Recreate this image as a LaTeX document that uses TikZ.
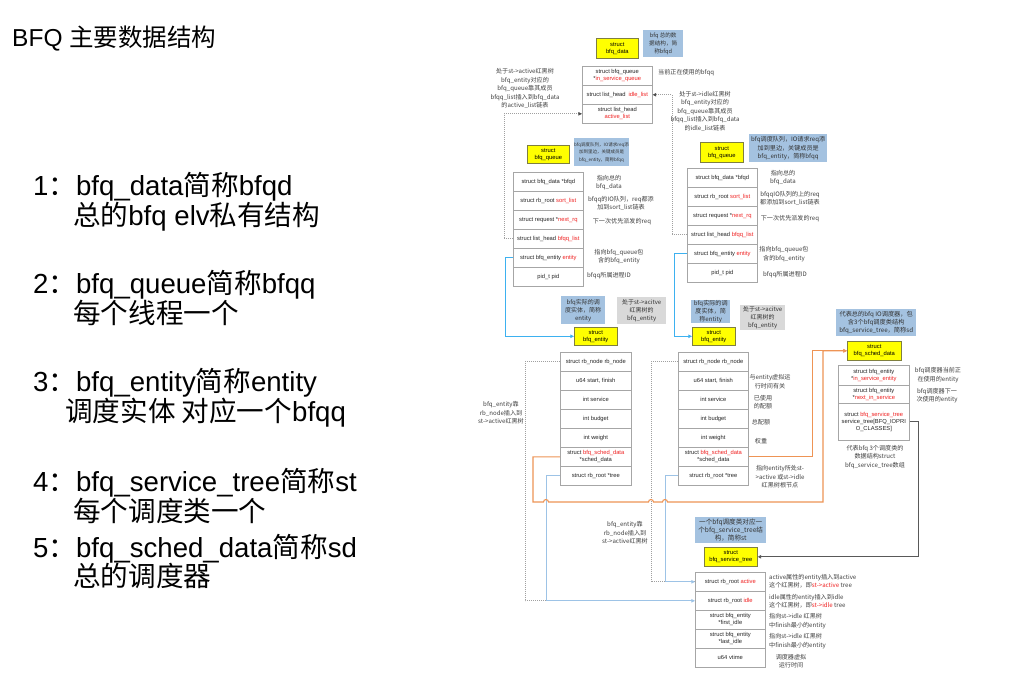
\documentclass[tikz,border=0pt]{standalone}
\usepackage{fontspec}
\setmainfont{Liberation Sans}
\newfontfamily\zhf{Noto Sans CJK SC}
\usetikzlibrary{arrows.meta}
\definecolor{rowc}{HTML}{A6A6A6}
\definecolor{yel}{HTML}{FFFF00}
\definecolor{ybord}{HTML}{7F7F40}
\definecolor{bnc}{HTML}{A4C2E0}
\definecolor{gnc}{HTML}{D9D9D9}
\definecolor{redc}{HTML}{F02020}
\definecolor{dotgray}{HTML}{A0A0A0}
\definecolor{bbr}{HTML}{3DB1F0}
\definecolor{bpl}{HTML}{9DC3E6}
\definecolor{orc}{HTML}{EE9455}
\definecolor{dgc}{HTML}{595959}
\newcommand\zh[1]{{\zhf #1}}
\newcommand\rd[1]{\textcolor{redc}{#1}}
\newcommand\rowf{\fontsize{5.8}{7}\selectfont}
\newcommand\annf{\zhf\fontsize{6.1}{8.5}\selectfont}
\newcommand\notef[1]{\zhf\fontsize{#1}{8}\selectfont}
\newcommand\mkrow[6]{\node[row, minimum width=#4pt, minimum height=#5pt] (#1) at (#2,#3) {#6};}
\begin{document}
\begin{tikzpicture}[x=1pt,y=-1pt,
 row/.style={draw=rowc, line width=0.6pt, fill=white, anchor=north west, inner sep=0pt, align=center, font=\rowf, text=black!85},
 ybox/.style={draw=ybord, line width=0.6pt, fill=yel, anchor=north west, inner sep=0pt, align=center, font=\rowf},
 bnote/.style={fill=bnc, anchor=north west, inner sep=0pt, align=center, text=black!80},
 gnote/.style={fill=gnc, anchor=north west, inner sep=0pt, align=center, text=black!80},
 ann/.style={align=center, font=\annf, text=black!75, inner sep=0pt},
 lst/.style={anchor=base west, inner sep=0pt, font=\fontsize{27.6}{30}\selectfont, text=black},
 tip/.style={-{Triangle[length=3.6pt,width=3.4pt]}},
 dotc/.style={draw=dotgray, line width=0.7pt, dash pattern=on 0.8pt off 1.2pt},
 dtip/.style={-{Triangle[length=3.6pt,width=3.4pt,color=black!70]}},
 bbright/.style={draw=bbr, line width=0.9pt, tip},
 bpale/.style={draw=bpl, line width=0.9pt, tip},
 orl/.style={draw=orc, line width=1.1pt},
 dgl/.style={draw=dgc, line width=0.9pt, tip}]
\useasboundingbox (0,0) rectangle (1011,675);
\fill[white] (0,0) rectangle (1011,675);

% ---------- left text ----------
\node[anchor=base west, inner sep=0pt, font=\fontsize{24.5}{28}\selectfont] (title) at (12,46) {BFQ \zh{主要数据结构}};
\node[lst] (l1a) at (33,195) {1\zh{：}bfq\_data\zh{简称}bfqd};
\node[lst] (l1b) at (73,225) {\zh{总的}bfq elv\zh{私有结构}};
\node[lst] (l2a) at (33,293) {2\zh{：}bfq\_queue\zh{简称}bfqq};
\node[lst] (l2b) at (73,323) {\zh{每个线程一个}};
\node[lst] (l3a) at (33,391) {3\zh{：}bfq\_entity\zh{简称}entity};
\node[lst] (l3b) at (65,421) {\zh{调度实体 对应一个}bfqq};
\node[lst] (l4a) at (33,491) {4\zh{：}bfq\_service\_tree\zh{简称}st};
\node[lst] (l4b) at (73,521) {\zh{每个调度类一个}};
\node[lst] (l5a) at (33,557) {5\zh{：}bfq\_sched\_data\zh{简称}sd};
\node[lst] (l5b) at (73,586) {\zh{总的调度器}};

% ---------- bfq_data ----------
\node[ybox, minimum width=42pt, minimum height=20pt] (bdy) at (596,38) {struct\\bfq\_data};
\node[bnote, minimum width=40pt, minimum height=27pt, font=\notef{5.6}] (bdn) at (643,30) {bfq 总的数\\据结构，简\\称bfqd};
\mkrow{bd1}{582}{66}{70}{19}{struct bfq\_queue\\*\rd{in\_service\_queue}}
\mkrow{bd2}{582}{85}{70}{19}{struct list\_head\enspace\rd{idle\_list}}
\mkrow{bd3}{582}{104}{70}{19}{struct list\_head\\\rd{active\_list}}
\node[ann] (a1) at (525,88.5) {处于st->active红黑树\\bfq\_entity对应的\\bfq\_queue靠其成员\\bfqq\_list插入到bfq\_data\\的active\_list链表};
\node[ann, anchor=west] (a2) at (658,73) {当前正在使用的bfqq};
\node[ann] (a3) at (705,111) {处于st->idle红黑树\\bfq\_entity对应的\\bfq\_queue靠其成员\\bfqq\_list插入到bfq\_data\\的idle\_list链表};

% ---------- left bfq_queue ----------
\node[ybox, minimum width=42pt, minimum height=18pt] (lqy) at (527,145) {struct\\bfq\_queue};
\node[bnote, minimum width=52pt, minimum height=28pt, font=\zhf\fontsize{4.5}{7.5}\selectfont] (lqn) at (574,138) {bfq调度队列，IO请求req添\\加到里边，关键成员是\\bfq\_entity，简称bfqq};
\mkrow{lq1}{513}{172}{70}{19}{struct bfq\_data *bfqd}
\mkrow{lq2}{513}{191}{70}{19}{struct rb\_root \rd{sort\_list}}
\mkrow{lq3}{513}{210}{70}{19}{struct request *\rd{next\_rq}}
\mkrow{lq4}{513}{229}{70}{19}{struct list\_head \rd{bfqq\_list}}
\mkrow{lq5}{513}{248}{70}{19}{struct bfq\_entity \rd{entity}}
\mkrow{lq6}{513}{267}{70}{19}{pid\_t pid}
\node[ann] (lqa1) at (609,182.5) {指向总的\\bfq\_data};
\node[ann] (lqa2) at (621,203.5) {bfqq的IO队列，req都添\\加到sort\_list链表};
\node[ann] (lqa3) at (622,222) {下一次优先派发的req};
\node[ann] (lqa4) at (619,256.5) {指向bfq\_queue包\\含的bfq\_entity};
\node[ann] (lqa5) at (609,276) {bfqq所属进程ID};

% ---------- right bfq_queue ----------
\node[ybox, minimum width=43pt, minimum height=20pt] (rqy) at (700,142) {struct\\bfq\_queue};
\node[bnote, minimum width=78pt, minimum height=28pt, font=\zhf\fontsize{6.1}{8.5}\selectfont] (rqn) at (749,134) {bfq调度队列，IO请求req添\\加到里边，关键成员是\\bfq\_entity，简称bfqq};
\mkrow{rq1}{687}{168}{70}{19}{struct bfq\_data *bfqd}
\mkrow{rq2}{687}{187}{70}{19}{struct rb\_root \rd{sort\_list}}
\mkrow{rq3}{687}{206}{70}{19}{struct request *\rd{next\_rq}}
\mkrow{rq4}{687}{225}{70}{19}{struct list\_head \rd{bfqq\_list}}
\mkrow{rq5}{687}{244}{70}{19}{struct bfq\_entity \rd{entity}}
\mkrow{rq6}{687}{263}{70}{19}{pid\_t pid}
\node[ann] (rqa1) at (783,177.5) {指向总的\\bfq\_data};
\node[ann] (rqa2) at (790,198.5) {bfqqIO队列的上的req\\都添加到sort\_list链表};
\node[ann] (rqa3) at (790,219) {下一次优先派发的req};
\node[ann] (rqa4) at (784,254) {指向bfq\_queue包\\含的bfq\_entity};
\node[ann] (rqa5) at (785,275) {bfqq所属进程ID};

% ---------- left bfq_entity ----------
\node[bnote, minimum width=44pt, minimum height=28pt, font=\notef{6}] (len) at (561,296) {bfq实际的调\\度实体，简称\\entity};
\node[gnote, minimum width=49pt, minimum height=27pt, font=\notef{6}] (leg) at (617,297) {处于st->acitve\\红黑树的\\bfq\_entity};
\node[ybox, minimum width=43pt, minimum height=18pt] (ley) at (574,327) {struct\\bfq\_entity};
\mkrow{le1}{560}{352}{71}{19}{struct rb\_node rb\_node}
\mkrow{le2}{560}{371}{71}{19}{u64 start, finish}
\mkrow{le3}{560}{390}{71}{19}{int service}
\mkrow{le4}{560}{409}{71}{19}{int budget}
\mkrow{le5}{560}{428}{71}{19}{int weight}
\mkrow{le6}{560}{447}{71}{19}{struct \rd{bfq\_sched\_data}\\*sched\_data}
\mkrow{le7}{560}{466}{71}{19}{struct rb\_root *tree}
\node[ann] (lea) at (501,413) {bfq\_entity靠\\rb\_node插入到\\st->active红黑树};

% ---------- right bfq_entity ----------
\node[bnote, minimum width=39pt, minimum height=23pt, font=\zhf\fontsize{6.1}{7.6}\selectfont] (ren) at (691,300) {bfq实际的调\\度实体，简\\称entity};
\node[gnote, minimum width=45pt, minimum height=25pt, font=\notef{6}] (reg) at (740,305) {处于st->acitve\\红黑树的\\bfq\_entity};
\node[ybox, minimum width=43pt, minimum height=18pt] (rey) at (692,327) {struct\\bfq\_entity};
\mkrow{re1}{678}{352}{70}{19}{struct rb\_node rb\_node}
\mkrow{re2}{678}{371}{70}{19}{u64 start, finish}
\mkrow{re3}{678}{390}{70}{19}{int service}
\mkrow{re4}{678}{409}{70}{19}{int budget}
\mkrow{re5}{678}{428}{70}{19}{int weight}
\mkrow{re6}{678}{447}{70}{19}{struct \rd{bfq\_sched\_data}\\*sched\_data}
\mkrow{re7}{678}{466}{70}{19}{struct rb\_root *tree}
\node[ann] (rea1) at (770,381.5) {与entity虚拟运\\行时间有关};
\node[ann] (rea2) at (763,402) {已使用\\的配额};
\node[ann] (rea3) at (761,422) {总配额};
\node[ann] (rea4) at (761,441) {权重};
\node[ann] (rea5) at (780,477) {指向entity所处st-\\>active 或st->idle\\红黑树根节点};

% ---------- bfq_sched_data ----------
\node[bnote, minimum width=80pt, minimum height=27pt, font=\notef{6.2}] (sdn) at (836,309) {代表总的bfq IO调度器，包\\含3个bfq调度类结构\\bfq\_service\_tree，简称sd};
\node[ybox, minimum width=54pt, minimum height=19pt] (sdy) at (847,341) {struct\\bfq\_sched\_data};
\mkrow{sd1}{838}{365}{71}{20}{struct bfq\_entity\\*\rd{in\_service\_entity}}
\mkrow{sd2}{838}{385}{71}{18}{struct bfq\_entity\\*\rd{next\_in\_service}}
\mkrow{sd3}{838}{403}{71}{37}{struct \rd{bfq\_service\_tree}\\service\_tree[BFQ\_IOPRI\\O\_CLASSES]}
\node[ann] (sda1) at (938,375) {bfq调度器当前正\\在使用的entity};
\node[ann] (sda2) at (937,395.5) {bfq调度器下一\\次使用的entity};
\node[ann] (sda3) at (875,457) {代表bfq 3个调度类的\\数据结构struct\\bfq\_service\_tree数组};

% ---------- bfq_service_tree ----------
\node[bnote, minimum width=71pt, minimum height=26pt, font=\notef{6.6}] (stn) at (695,517) {一个bfq调度类对应一\\个bfq\_service\_tree结\\构，简称st};
\node[ybox, minimum width=53pt, minimum height=19pt] (sty) at (704,547) {struct\\bfq\_service\_tree};
\mkrow{st1}{695}{572}{70}{19}{struct rb\_root \rd{active}}
\mkrow{st2}{695}{591}{70}{19}{struct rb\_root \rd{idle}}
\mkrow{st3}{695}{610}{70}{19}{struct bfq\_entity\\*first\_idle}
\mkrow{st4}{695}{629}{70}{19}{struct bfq\_entity\\*last\_idle}
\mkrow{st5}{695}{648}{70}{19}{u64 vtime}
\node[ann, anchor=west, align=left] (sta1) at (769,581) {active属性的entity插入到active\\这个红黑树，即\rd{st->active} tree};
\node[ann, anchor=west, align=left] (sta2) at (769,601) {idle属性的entity插入到idle\\这个红黑树，即\rd{st->idle} tree};
\node[ann, anchor=west, align=left] (sta3) at (769,621) {指向st->idle 红黑树\\中finish最小的entity};
\node[ann, anchor=west, align=left] (sta4) at (769,641) {指向st->idle 红黑树\\中finish最小的entity};
\node[ann] (sta5) at (791,661) {调度器虚拟\\运行时间};
\node[ann] (sta6) at (625,533) {bfq\_entity靠\\rb\_node插入到\\st->active红黑树};

% ---------- connectors ----------
\draw[dotc, dtip] (lq4.west) -- ++(-9,0) |- (bd3.west);
\draw[dotc, dtip] (rq4.west) -- ++(-15,0) |- (bd2.east);
\draw[bbright] (lq5.west) -- ++(-8,0) |- (ley.west);
\draw[bbright] (rq5.west) -- ++(-13,0) |- (rey.west);
\draw[dotc] (le1.west) -- ++(-35,0) |- (st2.west);
\draw[dotc] (re1.west) -- ++(-27,0) |- (st1.west);
\draw[bpale] (le7.west) -- ++(-14,0) |- (st2.west);
\draw[bpale] (re7.west) -- ++(-13,0) |- (st1.west);
\draw[orl, tip] (le6.west) -- ++(-27,0) -- (533,502) -- (543.5,502)
  arc[start angle=180, end angle=360, radius=2.5] -- (648.5,502)
  arc[start angle=180, end angle=360, radius=2.5] -- (662.5,502)
  arc[start angle=180, end angle=360, radius=2.5] -- (823,502) |- (sdy.west);
\draw[orl, tip] (re6.east) -- ++(64,0) |- (sdy.west);
\draw[dgl] (sd3.east) -- ++(9,0) |- (sty.east);
\end{tikzpicture}
\end{document}
